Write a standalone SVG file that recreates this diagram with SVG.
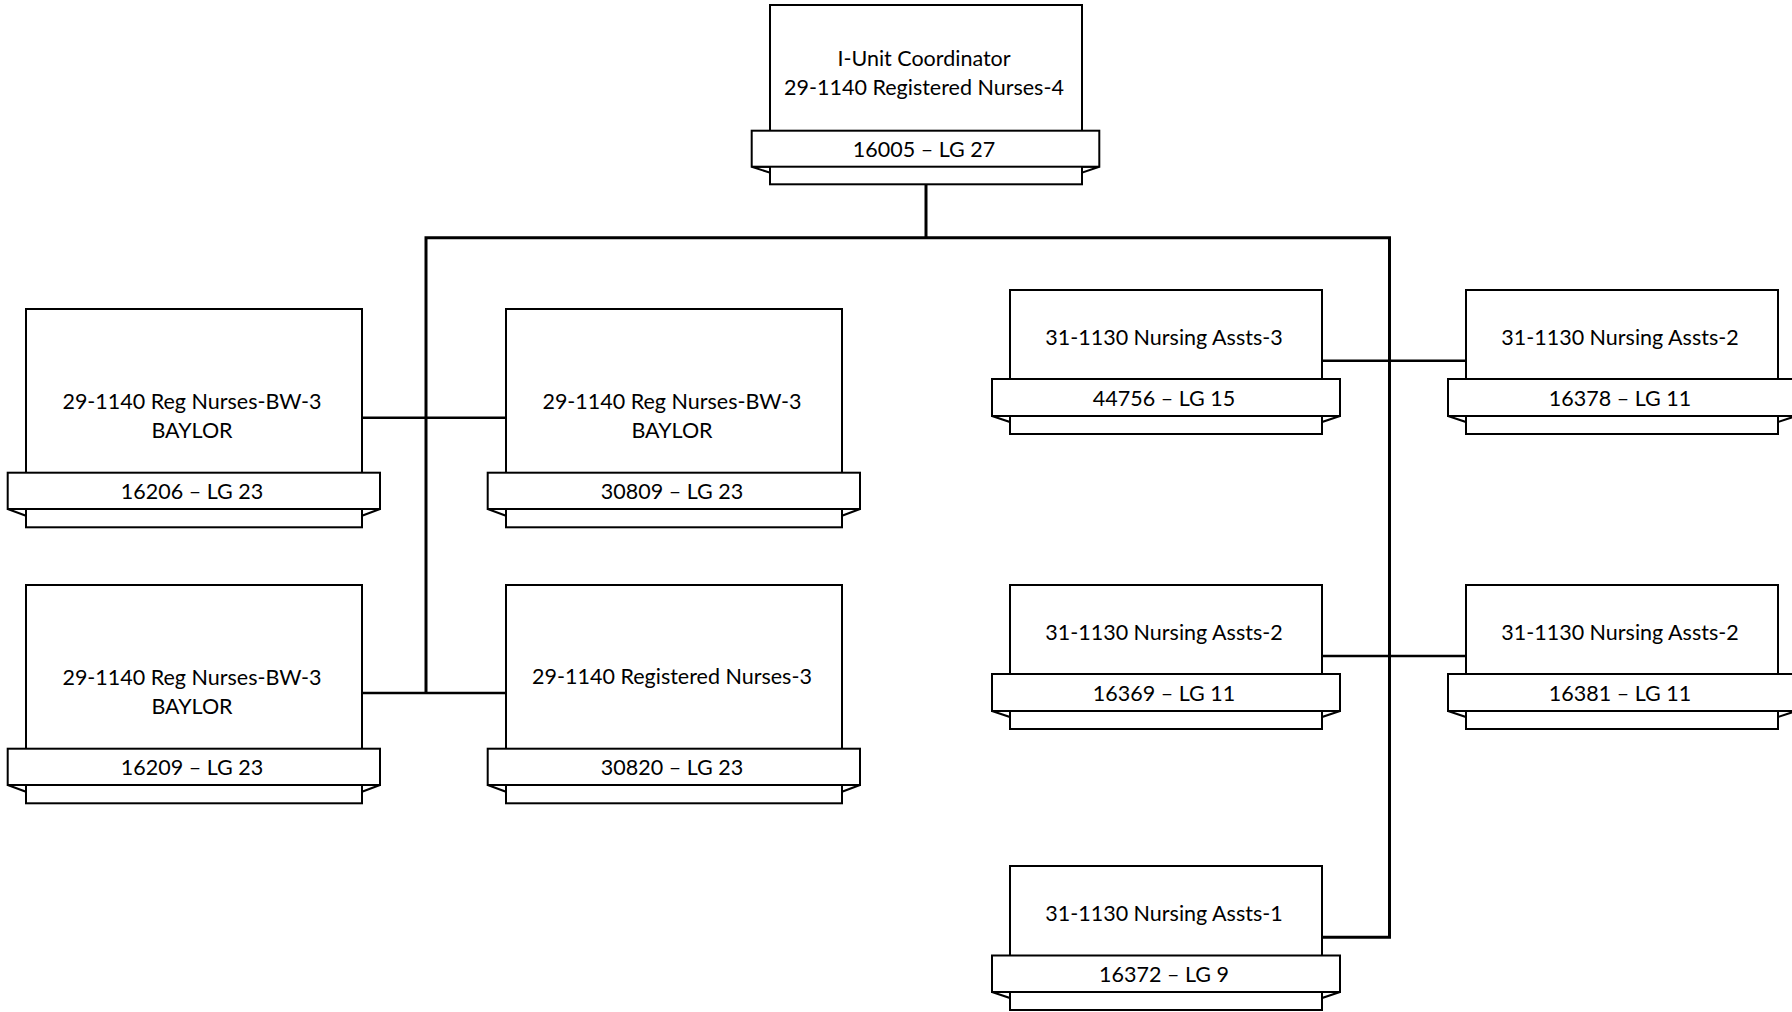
<svg xmlns="http://www.w3.org/2000/svg" width="1792" height="1012" viewBox="0 0 1792 1012">
<style>
.box{fill:#fff;stroke:#000;stroke-width:2}
.t{font-family:Lato,"Liberation Sans",sans-serif;font-size:21.5px;fill:#000;text-anchor:middle}
.main{fill:none;stroke:#000;stroke-width:3;stroke-linejoin:miter}
.br{fill:none;stroke:#000;stroke-width:2.5}
</style>
<rect width="1792" height="1012" fill="#fff"/>
<g id="connectors">
<path class="main" d="M926 184 V237.7"/>
<path class="main" d="M426 693 V237.7 H1389.5 V937.3 H1322"/>
<path class="br" d="M362 417.7 H506"/>
<path class="br" d="M362 693 H506"/>
<path class="br" d="M1322 360.7 H1466"/>
<path class="br" d="M1322 656 H1466"/>
</g>
<g id="n-top" transform="translate(770,5)">
<rect class="box" x="0" y="0" width="312" height="179.3"/>
<polygon class="box" points="-18.3,161.7 0,161.7 0,167.7"/>
<polygon class="box" points="329.3,161.7 312,161.7 312,167.7"/>
<rect class="box" x="-18.3" y="125.7" width="347.6" height="36"/>
<text class="t" x="154" y="61.4">I-Unit Coordinator</text>
<text class="t" x="154" y="90.2">29-1140 Registered Nurses-4</text>
<text class="t" x="154" y="151.9">16005 – LG 27</text>
</g>
<g id="n-16206" transform="translate(26,309)">
<rect class="box" x="0" y="0" width="336" height="218.3"/>
<polygon class="box" points="-18.3,200 0,200 0,206.7"/>
<polygon class="box" points="354,200 336,200 336,206.7"/>
<rect class="box" x="-18.3" y="163.7" width="372.3" height="36.3"/>
<text class="t" x="166" y="100.4">29-1140 Reg Nurses-BW-3</text>
<text class="t" x="166" y="129.4">BAYLOR</text>
<text class="t" x="166" y="189.7">16206 – LG 23</text>
</g>
<g id="n-30809" transform="translate(506,309)">
<rect class="box" x="0" y="0" width="336" height="218.3"/>
<polygon class="box" points="-18.3,200 0,200 0,206.7"/>
<polygon class="box" points="354,200 336,200 336,206.7"/>
<rect class="box" x="-18.3" y="163.7" width="372.3" height="36.3"/>
<text class="t" x="166" y="100.4">29-1140 Reg Nurses-BW-3</text>
<text class="t" x="166" y="129.4">BAYLOR</text>
<text class="t" x="166" y="189.7">30809 – LG 23</text>
</g>
<g id="n-16209" transform="translate(26,585)">
<rect class="box" x="0" y="0" width="336" height="218.3"/>
<polygon class="box" points="-18.3,200 0,200 0,206.7"/>
<polygon class="box" points="354,200 336,200 336,206.7"/>
<rect class="box" x="-18.3" y="163.7" width="372.3" height="36.3"/>
<text class="t" x="166" y="100.4">29-1140 Reg Nurses-BW-3</text>
<text class="t" x="166" y="129.4">BAYLOR</text>
<text class="t" x="166" y="189.7">16209 – LG 23</text>
</g>
<g id="n-30820" transform="translate(506,585)">
<rect class="box" x="0" y="0" width="336" height="218.3"/>
<polygon class="box" points="-18.3,200 0,200 0,206.7"/>
<polygon class="box" points="354,200 336,200 336,206.7"/>
<rect class="box" x="-18.3" y="163.7" width="372.3" height="36.3"/>
<text class="t" x="166" y="98.7">29-1140 Registered Nurses-3</text>
<text class="t" x="166" y="189.7">30820 – LG 23</text>
</g>
<g id="n-44756" transform="translate(1010,290)">
<rect class="box" x="0" y="0" width="312" height="144"/>
<polygon class="box" points="-18,126 0,126 0,132"/>
<polygon class="box" points="330,126 312,126 312,132"/>
<rect class="box" x="-18" y="89" width="348" height="37"/>
<text class="t" x="154" y="54.7">31-1130 Nursing Assts-3</text>
<text class="t" x="154" y="116">44756 – LG 15</text>
</g>
<g id="n-16378" transform="translate(1466,290)">
<rect class="box" x="0" y="0" width="312" height="144"/>
<polygon class="box" points="-18,126 0,126 0,132"/>
<polygon class="box" points="330,126 312,126 312,132"/>
<rect class="box" x="-18" y="89" width="348" height="37"/>
<text class="t" x="154" y="54.7">31-1130 Nursing Assts-2</text>
<text class="t" x="154" y="116">16378 – LG 11</text>
</g>
<g id="n-16369" transform="translate(1010,585)">
<rect class="box" x="0" y="0" width="312" height="144"/>
<polygon class="box" points="-18,126 0,126 0,132"/>
<polygon class="box" points="330,126 312,126 312,132"/>
<rect class="box" x="-18" y="89" width="348" height="37"/>
<text class="t" x="154" y="54.7">31-1130 Nursing Assts-2</text>
<text class="t" x="154" y="116">16369 – LG 11</text>
</g>
<g id="n-16381" transform="translate(1466,585)">
<rect class="box" x="0" y="0" width="312" height="144"/>
<polygon class="box" points="-18,126 0,126 0,132"/>
<polygon class="box" points="330,126 312,126 312,132"/>
<rect class="box" x="-18" y="89" width="348" height="37"/>
<text class="t" x="154" y="54.7">31-1130 Nursing Assts-2</text>
<text class="t" x="154" y="116">16381 – LG 11</text>
</g>
<g id="n-16372" transform="translate(1010,866)">
<rect class="box" x="0" y="0" width="312" height="144"/>
<polygon class="box" points="-18,126 0,126 0,132"/>
<polygon class="box" points="330,126 312,126 312,132"/>
<rect class="box" x="-18" y="89.5" width="348" height="36.5"/>
<text class="t" x="154" y="54.7">31-1130 Nursing Assts-1</text>
<text class="t" x="154" y="116">16372 – LG 9</text>
</g>
</svg>
